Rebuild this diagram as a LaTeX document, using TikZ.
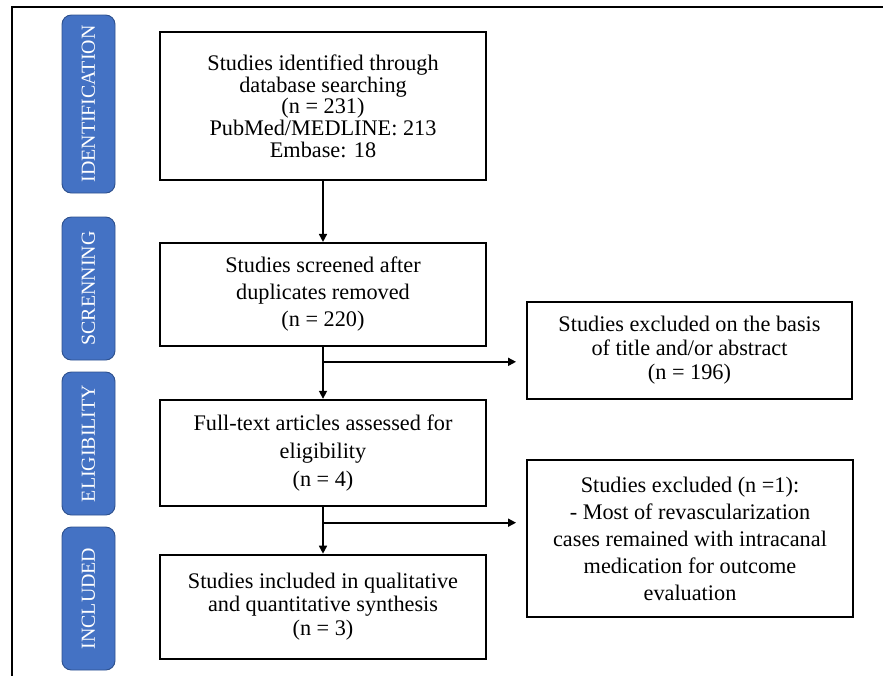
\documentclass[tikz,border=0pt]{standalone}
\usepackage{fontspec}
\setmainfont{Liberation Serif}
\usetikzlibrary{
  arrows.meta,
  positioning,
  calc
}
\definecolor{phaseblue}{RGB}{68,114,196}
\definecolor{phaseedge}{RGB}{47,82,143}

\begin{document}
\begin{tikzpicture}[
    node distance=1.5cm,
    every node/.style={font=\fontsize{19}{23}\selectfont},
    box/.style={
      draw,
      line width=1.6pt,
      align=center,
      minimum width=9.78cm,
      inner sep=2pt
    },
    phase/.style={
      draw=phaseedge,
      line width=0.8pt,
      fill=phaseblue,
      rounded corners=8pt,
      rotate=90,
      text=white,
      minimum height=1.59cm,
      minimum width=4.29cm,
      font=\fontsize{17}{19}\selectfont
    },
    ar/.style={-{Triangle[length=2.4mm,width=2.4mm]}, line width=1.4pt}
  ]
    \useasboundingbox (0,0) rectangle (26.49,-20.25);
    \clip (0,0) rectangle (26.49,-20.25);
    % outer frame, runs off the page at right and bottom
    \draw[line width=2.2pt] (0.36,-0.21) rectangle (27,-21);

    % main column
    \node[box, minimum height=4.44cm, font=\fontsize{19}{18.5}\selectfont] (ident) at (9.69,-3.18)
      {Studies identified through\\database searching\\(n = 231)\\PubMed/MEDLINE: 213\\Embase: 18};
    \node[box, below=1.83cm of ident, minimum height=3.09cm] (screen)
      {Studies screened after\\duplicates removed\\(n = 220)};
    \node[box, below=1.56cm of screen, minimum height=3.18cm, font=\fontsize{19}{24}\selectfont] (full)
      {Full-text articles assessed for\\eligibility\\(n = 4)};
    \node[box, below=1.41cm of full, minimum height=3.12cm, font=\fontsize{19}{20}\selectfont] (incl)
      {Studies included in qualitative\\and quantitative synthesis\\(n = 3)};

    % exclusion boxes on the right
    \node[box, minimum width=9.75cm, minimum height=2.91cm, font=\fontsize{19}{20.5}\selectfont] (excl1) at (20.685,-10.515)
      {Studies excluded on the basis\\of title and/or abstract\\(n = 196)};
    \node[box, minimum height=4.71cm] (excl2) at (20.7,-16.155)
      {Studies excluded (n =1):\\- Most of revascularization\\cases remained with intracanal\\medication for outcome\\evaluation};

    % phase labels
    \node[phase, minimum width=5.34cm] (lid) at (2.655,-3.12) {IDENTIFICATION};
    \node[phase] (lsc) at (2.655,-8.655) {SCRENNING};
    \node[phase] (lel) at (2.655,-13.305) {ELIGIBILITY};
    \node[phase] (lin) at (2.655,-17.955) {INCLUDED};

    % arrows down the column
    \draw[ar] (ident) -- (screen);
    \draw[ar] (screen) -- (full);
    \draw[ar] (full) -- (incl);

    % side branches to the exclusions
    \coordinate[below=0.45cm of screen.south] (br1);
    \coordinate[below=0.48cm of full.south] (br2);
    \draw[ar, shorten >=0.3cm] (br1) -- (br1 -| excl1.west);
    \draw[ar, shorten >=0.3cm] (br2) -- (br2 -| excl2.west);
  \end{tikzpicture}
\end{document}
